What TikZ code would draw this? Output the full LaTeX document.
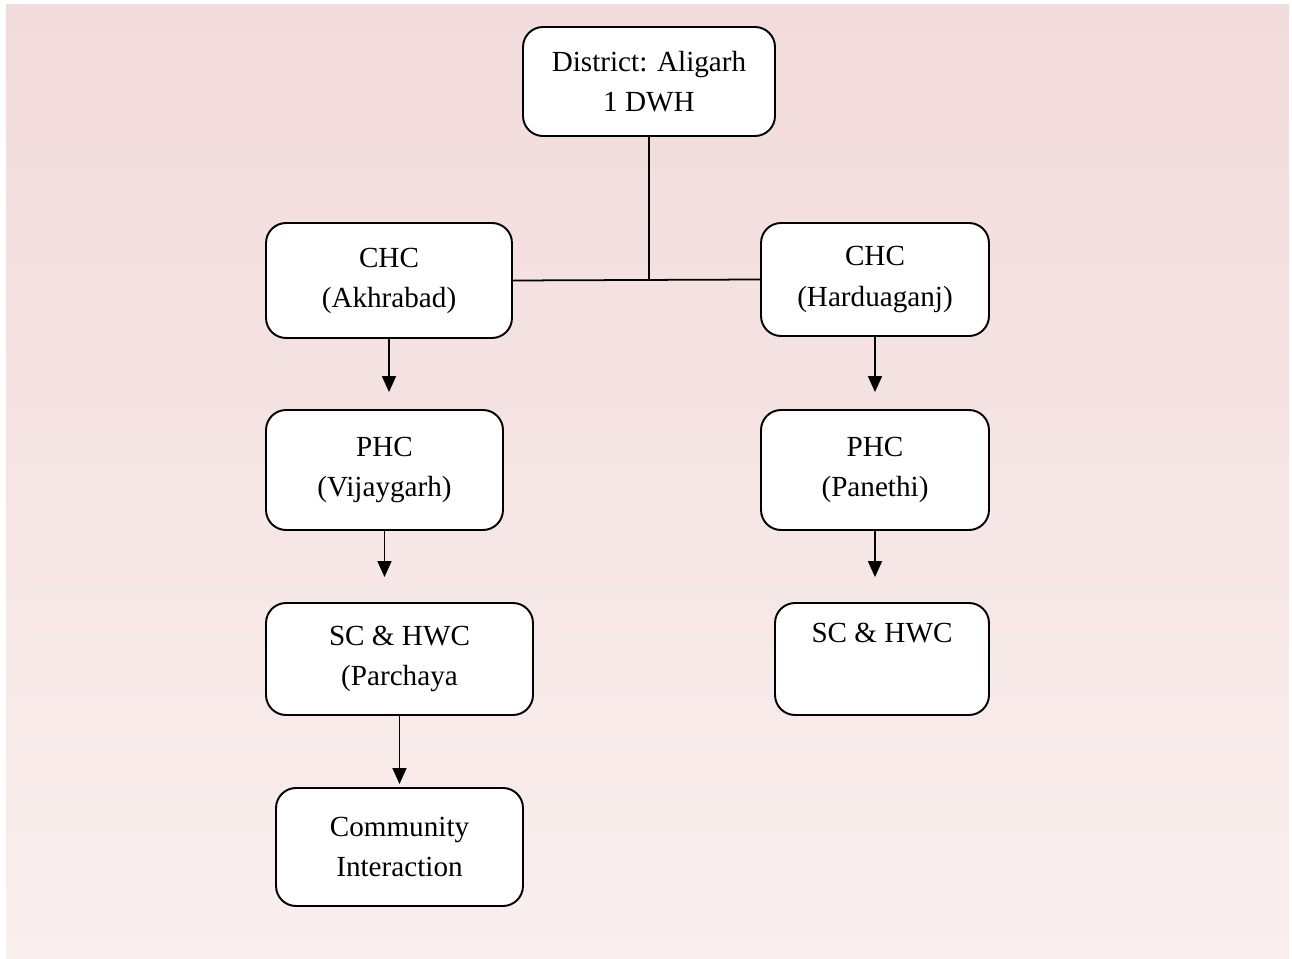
\documentclass[tikz,border=0pt]{standalone}
\usepackage{fontspec}
\setmainfont{Liberation Serif}
\usetikzlibrary{arrows.meta}

\begin{document}
\begin{tikzpicture}[x=0.02cm, y=-0.02cm,
    unit/.style={draw, line width=1.1pt, rounded corners=0.4cm, fill=white,
        align=center, inner sep=0pt, font=\fontsize{16.6}{22.8}\selectfont},
    link/.style={line width=1pt},
    down/.style={line width=1pt, -{Triangle[width=0.28cm, length=0.32cm]}, shorten >=#1},
    down/.default=0.34cm]
    \useasboundingbox (0,0) rectangle (1292,959);
    \shade [top color={rgb,255:red,242;green,219;blue,219}, bottom color={rgb,255:red,249;green,239;blue,238}]
        (6,5) rectangle (1289,959);

    \node [unit, minimum width=5.04cm, minimum height=2.18cm] (dist) at (649,81.5) {District: Aligarh\\1 DWH};
    \node [unit, minimum width=4.92cm, minimum height=2.3cm] (akh) at (389,280.5) {CHC\\(Akhrabad)};
    \node [unit, minimum width=4.56cm, minimum height=2.26cm] (har) at (875,279.5) {CHC\\(Harduaganj)};
    \node [unit, minimum width=4.74cm, minimum height=2.4cm] (vij) at (384.5,470) {PHC\\(Vijaygarh)};
    \node [unit, minimum width=4.56cm, minimum height=2.4cm] (pan) at (875,470) {PHC\\(Panethi)};
    \node [unit, minimum width=5.34cm, minimum height=2.24cm] (par) at (399.5,659) {SC \& HWC\\(Parchaya};
    \node [unit, minimum width=4.28cm, minimum height=2.24cm] (sch) at (882,659) {SC \& HWC\\\strut};
    \node [unit, minimum width=4.94cm, minimum height=2.36cm] (com) at (399.5,847) {Community\\Interaction};

    \draw [link] (dist.south) -- (dist.south |- akh.east);
    \draw [link] (akh.east) -- (har.west);
    \draw [down] (akh.south) -- (akh.south |- vij.north);
    \draw [down] (har.south) -- (har.south |- pan.north);
    \draw [down=0.5cm] (vij.south) -- (vij.south |- par.north);
    \draw [down=0.5cm] (pan.south) -- (pan.south |- sch.north);
    \draw [down=0.06cm] (par.south) -- (par.south |- com.north);
\end{tikzpicture}
\end{document}
